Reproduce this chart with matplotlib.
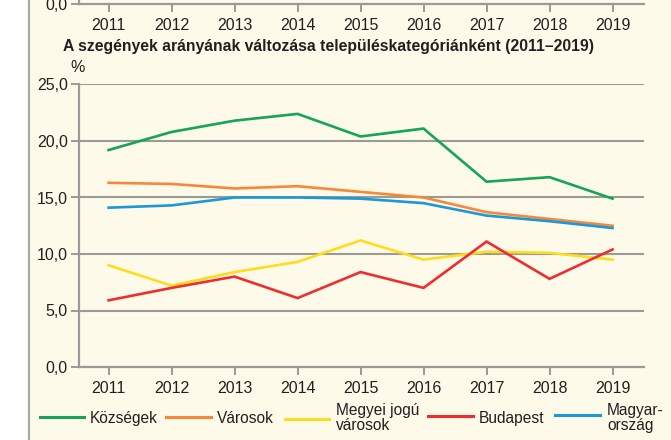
import matplotlib
matplotlib.use("Agg")
import matplotlib.pyplot as plt
from matplotlib.lines import Line2D
from matplotlib.patches import Rectangle

plt.rcParams['font.family'] = ['Liberation Sans', 'DejaVu Sans']

years = [2011, 2012, 2013, 2014, 2015, 2016, 2017, 2018, 2019]
kozsegek = [19.2, 20.8, 21.8, 22.4, 20.4, 21.1, 16.4, 16.8, 14.9]
varosok = [16.3, 16.2, 15.8, 16.0, 15.5, 15.0, 13.7, 13.1, 12.5]
megyei = [9.0, 7.2, 8.4, 9.3, 11.2, 9.5, 10.2, 10.1, 9.5]
budapest = [5.9, 7.0, 8.0, 6.1, 8.4, 7.0, 11.1, 7.8, 10.4]
magyarorszag = [14.1, 14.3, 15.0, 15.0, 14.9, 14.5, 13.4, 12.9, 12.3]

series_labels = ["Községek", "Városok", "Megyei jogú\nvárosok", "Budapest", "Magyar-\nország"]
series_colors = ["#14a556", "#f7883a", "#ffdc1e", "#ee2e2e", "#1b98d5"]
yticks = [0, 5, 10, 15, 20, 25]
ytick_labels = ["0,0", "5,0", "10,0", "15,0", "20,0", "25,0"]
title = "A szegények arányának változása településkategóriánként (2011–2019)"

W, H = 671, 440
fig = plt.figure(figsize=(W / 100, H / 100), dpi=100)
fig.patch.set_facecolor("white")

cream = "#fefae9"
grey = "#9a9a96"
txt = "#231f20"

# cream panel with left border
fig.add_artist(Rectangle((29 / W, 0), 1, 1, transform=fig.transFigure,
                         facecolor=cream, edgecolor="none", zorder=-10))
fig.add_artist(Line2D([29 / W, 29 / W], [0, 1], transform=fig.transFigure,
                      color="#a8a8a4", lw=1.6, zorder=-9))

left = 79 / W
width = (644 - 79) / W
height = (367 - 84.5) / H
xlim = (2010.53, 2019.5)


def style_axes(ax, yt, ytl, grid=True):
    ax.set_facecolor("none")
    ax.set_xlim(*xlim)
    ax.set_ylim(0, 25)
    ax.set_yticks(yt)
    ax.set_yticklabels(ytl)
    ax.set_xticks(years)
    ax.set_xticklabels([str(y) for y in years])
    for s in ["top", "right"]:
        ax.spines[s].set_visible(False)
    for s in ["left", "bottom"]:
        ax.spines[s].set_color(grey)
        ax.spines[s].set_linewidth(1.6)
    if grid:
        ax.yaxis.grid(True, color=grey, lw=1.5)
    ax.set_axisbelow(True)
    ax.tick_params(axis="both", colors=grey, labelcolor=txt, labelsize=11.5,
                   length=6, width=1.4)
    ax.tick_params(axis="x", pad=4)
    ax.tick_params(axis="y", pad=2)


# residual axis of the chart above (only its bottom edge visible)
ax_top = fig.add_axes([left, (H - 4) / H, width, height])
style_axes(ax_top, [0], ["0,0"], grid=False)

# main axes
ax = fig.add_axes([left, (H - 367) / H, width, height])
style_axes(ax, yticks, ytick_labels)

all_series = [kozsegek, varosok, megyei, budapest, magyarorszag]
for vals, col in zip(all_series, series_colors):
    ax.plot(years, vals, color=col, lw=1.9, solid_joinstyle="miter", zorder=3)

fig.text(63 / W, (H - 46) / H, title, fontsize=11.3, fontweight="bold",
         color=txt, ha="left", va="center")
fig.text(78 / W, (H - 68) / H, "%", fontsize=11.5, color=txt, ha="center", va="center")

# legend
leg_items = [(40, 84, 90, 417), (166, 211, 217, 417), (285, 329, 336, 419),
             (428, 473, 479, 416), (555, 600, 607, 415)]
for (x0, x1, xt, yl), lab, col in zip(leg_items, series_labels, series_colors):
    fig.add_artist(Line2D([x0 / W, x1 / W], [(H - yl) / H, (H - yl) / H],
                          transform=fig.transFigure, color=col, lw=2.2))
    fig.text(xt / W, (H - 418) / H, lab, fontsize=11.2, color=txt, ha="left",
             va="center", linespacing=0.95)

fig.savefig("out.png", dpi=100)
